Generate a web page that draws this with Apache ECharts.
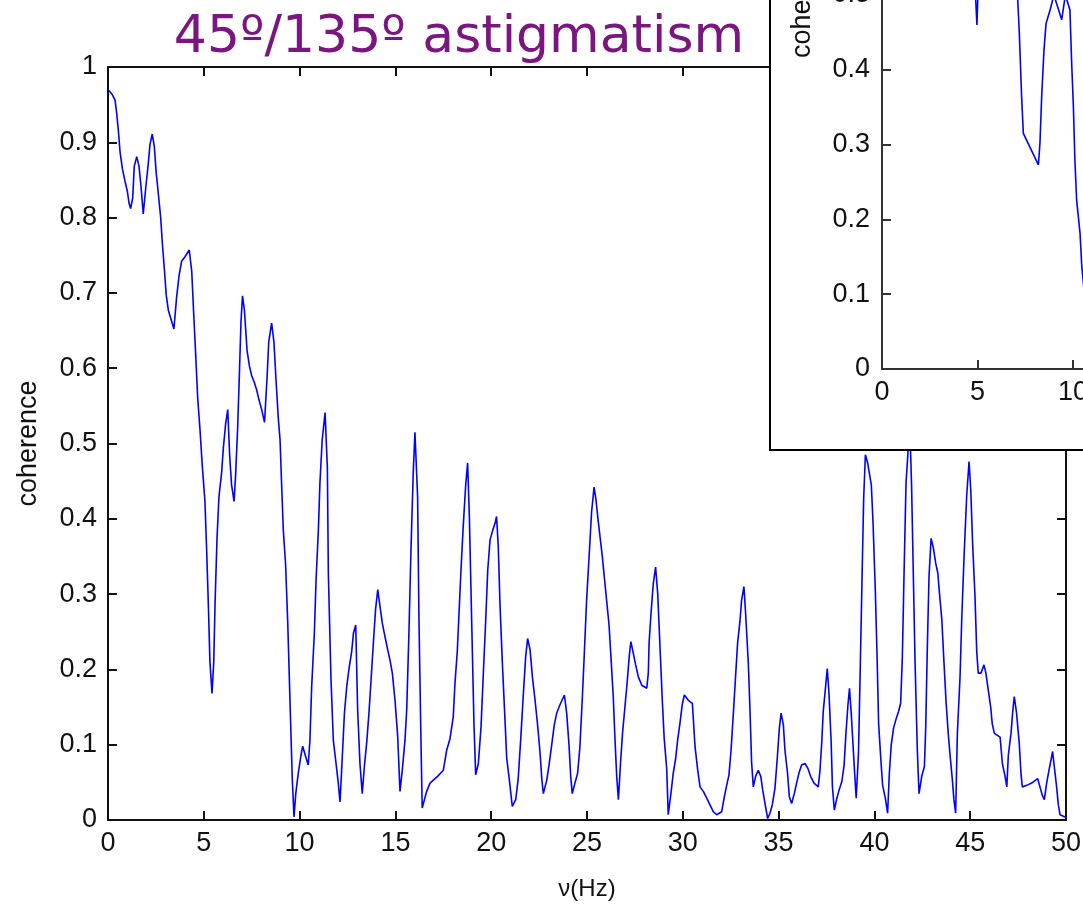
<!DOCTYPE html>
<html>
<head>
<meta charset="utf-8">
<script src="https://cdn.jsdelivr.net/npm/echarts@6/dist/echarts.min.js"></script>
<style>
html,body{margin:0;padding:0;background:#fff;}
#chart{width:1083px;height:904px;}
</style>
</head>
<body>
<div id="chart"></div>
<script>
// ---- data ----
const titleText = "45º/135º astigmatism";
const xTickValues = [0, 5, 10, 15, 20, 25, 30, 35, 40, 45, 50];
const yTickValues = [0, 0.1, 0.2, 0.3, 0.4, 0.5, 0.6, 0.7, 0.8, 0.9, 1];

const freqHz = [
0.0,0.1,0.23,0.37,0.45,0.54,0.63,0.75,0.89,1.01,1.1,1.18,1.29,1.37,1.5,1.62,1.72,1.84,1.9,1.98,
2.1,2.19,2.31,2.42,2.51,2.63,2.75,2.84,2.94,3.04,3.15,3.29,3.44,3.58,3.71,3.84,4.02,4.24,4.37,4.47,
4.58,4.68,4.8,4.92,5.06,5.15,5.24,5.32,5.43,5.52,5.59,5.69,5.79,5.93,6.02,6.14,6.25,6.35,6.45,6.58,
6.66,6.77,6.86,6.94,7.02,7.12,7.26,7.38,7.5,7.64,7.76,7.88,8.02,8.17,8.3,8.39,8.54,8.66,8.77,8.89,
8.98,9.06,9.15,9.27,9.38,9.5,9.62,9.71,9.8,9.93,10.06,10.16,10.32,10.45,10.54,10.63,10.77,10.86,10.98,11.06,
11.18,11.33,11.45,11.5,11.64,11.76,11.88,12.02,12.11,12.25,12.34,12.46,12.58,12.72,12.81,12.93,13.03,13.15,13.27,13.38,
13.5,13.62,13.73,13.85,13.97,14.08,14.2,14.32,14.46,14.6,14.72,14.84,14.98,15.12,15.24,15.36,15.5,15.59,15.71,15.81,
15.93,16.02,16.16,16.23,16.34,16.4,16.63,16.81,17.2,17.5,17.68,17.85,18.02,18.11,18.23,18.32,18.42,18.54,18.67,18.77,
18.86,18.98,19.1,19.19,19.33,19.47,19.59,19.71,19.82,19.94,20.06,20.2,20.28,20.37,20.46,20.58,20.72,20.81,20.94,21.1,
21.28,21.41,21.55,21.67,21.8,21.9,22.03,22.15,22.29,22.43,22.55,22.64,22.72,22.9,23.03,23.16,23.29,23.42,23.59,23.82,
23.94,24.06,24.15,24.23,24.37,24.51,24.63,24.76,24.86,24.98,25.11,25.24,25.37,25.47,25.56,25.68,25.8,25.91,26.03,26.15,
26.25,26.37,26.46,26.55,26.64,26.76,26.86,26.98,27.1,27.21,27.29,27.42,27.54,27.68,27.86,28.12,28.2,28.24,28.34,28.46,
28.58,28.69,28.81,28.93,29.03,29.16,29.24,29.38,29.5,29.63,29.73,29.85,29.97,30.08,30.29,30.5,30.64,30.78,30.9,31.07,
31.25,31.42,31.59,31.77,32.03,32.17,32.29,32.41,32.52,32.64,32.76,32.86,32.98,33.07,33.19,33.28,33.42,33.51,33.59,33.68,
33.8,33.94,34.07,34.17,34.29,34.43,34.55,34.67,34.81,34.93,35.04,35.13,35.25,35.33,35.46,35.56,35.68,35.82,35.94,36.06,
36.2,36.38,36.52,36.67,36.85,37.07,37.16,37.25,37.33,37.46,37.54,37.63,37.74,37.81,37.91,38.04,38.16,38.3,38.42,38.51,
38.62,38.7,38.79,38.88,38.96,39.05,39.17,39.26,39.35,39.44,39.53,39.65,39.74,39.84,39.93,40.05,40.14,40.22,40.35,40.43,
40.57,40.69,40.78,40.88,41.0,41.12,41.26,41.37,41.46,41.55,41.65,41.77,41.84,41.94,42.03,42.12,42.24,42.33,42.47,42.61,
42.68,42.76,42.85,42.96,43.08,43.2,43.31,43.39,43.52,43.63,43.74,43.86,43.95,44.07,44.15,44.24,44.33,44.47,44.56,44.68,
44.82,44.94,45.03,45.13,45.25,45.34,45.42,45.56,45.72,45.82,45.94,46.07,46.15,46.26,46.38,46.56,46.68,46.82,46.91,46.99,
47.13,47.22,47.3,47.42,47.56,47.65,47.72,47.95,48.21,48.52,48.64,48.76,48.87,48.99,49.11,49.22,49.3,49.39,49.51,49.6,
49.69,49.95,50.0
];
const coherence = [
0.97,0.968,0.963,0.956,0.939,0.916,0.887,0.865,0.848,0.835,0.819,0.812,0.826,0.868,0.881,0.868,0.842,0.805,0.803,0.842,
0.871,0.897,0.911,0.894,0.861,0.831,0.8,0.765,0.732,0.697,0.677,0.665,0.652,0.694,0.723,0.742,0.748,0.757,0.729,0.674,
0.616,0.561,0.519,0.471,0.423,0.358,0.284,0.21,0.168,0.21,0.29,0.374,0.429,0.461,0.494,0.526,0.545,0.484,0.445,0.423,
0.458,0.523,0.594,0.661,0.696,0.677,0.623,0.603,0.59,0.581,0.571,0.558,0.545,0.528,0.587,0.635,0.66,0.635,0.584,0.533,
0.505,0.447,0.385,0.339,0.263,0.157,0.053,0.004,0.035,0.062,0.084,0.098,0.084,0.073,0.106,0.177,0.248,0.319,0.385,0.447,
0.505,0.541,0.467,0.328,0.186,0.106,0.08,0.049,0.024,0.095,0.142,0.177,0.201,0.224,0.248,0.259,0.146,0.075,0.035,0.071,
0.102,0.142,0.186,0.235,0.281,0.306,0.283,0.261,0.243,0.226,0.212,0.195,0.159,0.111,0.038,0.066,0.106,0.146,0.252,0.356,
0.46,0.515,0.429,0.266,0.097,0.016,0.038,0.049,0.058,0.066,0.093,0.108,0.137,0.182,0.224,0.274,0.33,0.39,0.445,0.474,
0.403,0.266,0.128,0.06,0.075,0.124,0.195,0.263,0.332,0.372,0.383,0.394,0.403,0.363,0.286,0.21,0.133,0.082,0.055,0.018,
0.027,0.055,0.111,0.164,0.217,0.241,0.226,0.19,0.159,0.124,0.089,0.055,0.035,0.053,0.075,0.1,0.126,0.142,0.153,0.166,
0.142,0.1,0.058,0.035,0.049,0.062,0.097,0.164,0.221,0.292,0.35,0.409,0.442,0.425,0.403,0.376,0.35,0.321,0.29,0.259,
0.217,0.164,0.108,0.058,0.027,0.08,0.117,0.15,0.184,0.219,0.237,0.221,0.206,0.19,0.179,0.175,0.195,0.235,0.274,0.314,
0.336,0.301,0.23,0.159,0.108,0.068,0.007,0.035,0.062,0.082,0.106,0.128,0.153,0.166,0.159,0.155,0.097,0.066,0.044,0.038,
0.029,0.02,0.011,0.007,0.011,0.031,0.046,0.06,0.093,0.142,0.193,0.235,0.263,0.292,0.31,0.274,0.208,0.144,0.077,0.044,
0.058,0.066,0.058,0.04,0.022,0.002,0.009,0.02,0.042,0.082,0.122,0.142,0.126,0.093,0.064,0.031,0.022,0.035,0.049,0.062,
0.073,0.075,0.069,0.058,0.049,0.044,0.066,0.102,0.144,0.179,0.201,0.168,0.106,0.044,0.013,0.029,0.04,0.051,0.073,0.113,
0.153,0.175,0.142,0.102,0.066,0.029,0.089,0.199,0.314,0.427,0.485,0.474,0.46,0.445,0.394,0.303,0.217,0.128,0.075,0.046,
0.029,0.009,0.062,0.1,0.122,0.133,0.144,0.155,0.217,0.33,0.447,0.495,0.53,0.445,0.328,0.212,0.093,0.035,0.058,0.071,
0.124,0.226,0.323,0.374,0.361,0.341,0.328,0.303,0.266,0.21,0.157,0.113,0.086,0.053,0.027,0.009,0.115,0.19,0.268,0.35,
0.432,0.476,0.438,0.365,0.297,0.224,0.195,0.195,0.206,0.195,0.173,0.15,0.128,0.115,0.113,0.11,0.075,0.058,0.044,0.086,
0.115,0.144,0.164,0.142,0.102,0.062,0.044,0.046,0.049,0.055,0.044,0.033,0.027,0.049,0.066,0.08,0.091,0.071,0.044,0.02,
0.007,0.004,0.003
];

// inset (partly visible second panel)
const insetFreqHz = [4.5,4.8,4.97,5.1,5.5,6.5,7.0,7.19,7.31,7.4,8.19,8.27,8.36,8.48,8.59,8.8,9.0,9.41,9.6,9.84,9.93,10.02,10.1,10.19,10.37,10.46,10.6];
const insetCoherence = [0.6,0.55,0.46,0.56,0.6,0.62,0.55,0.449,0.364,0.315,0.273,0.302,0.364,0.426,0.462,0.48,0.5,0.467,0.5,0.48,0.409,0.351,0.279,0.226,0.181,0.137,0.1];

const mainData = freqHz.map((f, i) => [f, coherence[i]]);
const insetData = insetFreqHz.map((f, i) => [f, insetCoherence[i]]);

const FONT = "Liberation Sans";
const AX = '#111';
const LBL = 27;

const chart = echarts.init(document.getElementById('chart'), null, {renderer: 'canvas'});
const option = {
  backgroundColor: '#ffffff',
  animation: false,
  title: {
    text: titleText,
    left: 454, top: 7, textAlign: 'center',
    textStyle: {fontFamily: 'DejaVu Sans', fontSize: 52, fontWeight: 'normal', color: '#7b1580'}
  },
  grid: [
    {left: 108, top: 67, right: 17, bottom: 84, containLabel: false, outerBoundsMode: 'none'},
    {left: 882, top: 369 - 748, width: 286.5, height: 748, containLabel: false, outerBoundsMode: 'none'}
  ],
  xAxis: [
    {type: 'value', gridIndex: 0, position: 'bottom', min: 0, max: 50, interval: 5,
     name: 'ν(Hz)', nameLocation: 'middle', nameGap: 57,
     nameTextStyle: {fontFamily: FONT, fontSize: 24, color: AX},
     axisLine: {show: true, onZero: false, lineStyle: {color: AX, width: 2}},
     axisTick: {show: true, inside: true, length: 9, lineStyle: {color: AX, width: 2}},
     axisLabel: {fontFamily: FONT, fontSize: LBL, color: AX, margin: 10,
       formatter: v => xTickValues.includes(v) ? String(v) : ''},
     splitLine: {show: false}},
    {type: 'value', gridIndex: 0, position: 'top', min: 0, max: 50, interval: 5,
     axisLine: {show: true, onZero: false, lineStyle: {color: AX, width: 2}},
     axisTick: {show: true, inside: true, length: 9, lineStyle: {color: AX, width: 2}},
     axisLabel: {show: false}, splitLine: {show: false}},
    {type: 'value', gridIndex: 1, position: 'bottom', min: 0, max: 15, interval: 5, z: 60,
     axisLine: {show: true, onZero: false, lineStyle: {color: '#333', width: 2}},
     axisTick: {show: true, inside: true, length: 9, lineStyle: {color: '#333', width: 2}},
     axisLabel: {fontFamily: FONT, fontSize: LBL, color: AX, margin: 10},
     splitLine: {show: false}}
  ],
  yAxis: [
    {type: 'value', gridIndex: 0, position: 'left', min: 0, max: 1, interval: 0.1,
     name: 'coherence', nameLocation: 'middle', nameGap: 66,
     nameTextStyle: {fontFamily: FONT, fontSize: 27, color: AX},
     axisLine: {show: true, onZero: false, lineStyle: {color: AX, width: 2}},
     axisTick: {show: true, inside: true, length: 9, lineStyle: {color: AX, width: 2}},
     axisLabel: {fontFamily: FONT, fontSize: LBL, color: AX, margin: 11,
       formatter: v => yTickValues.includes(Math.round(v * 10) / 10) ? String(Math.round(v * 10) / 10) : ''},
     splitLine: {show: false}},
    {type: 'value', gridIndex: 0, position: 'right', min: 0, max: 1, interval: 0.1,
     axisLine: {show: true, onZero: false, lineStyle: {color: AX, width: 2}},
     axisTick: {show: true, inside: true, length: 9, lineStyle: {color: AX, width: 2}},
     axisLabel: {show: false}, splitLine: {show: false}},
    {type: 'value', gridIndex: 1, position: 'left', min: 0, max: 1, interval: 0.1, z: 60,
     name: 'coherence', nameLocation: 'middle', nameGap: 66,
     nameTextStyle: {fontFamily: FONT, fontSize: 27, color: AX},
     axisLine: {show: true, onZero: false, lineStyle: {color: '#333', width: 2}},
     axisTick: {show: true, inside: true, length: 9, lineStyle: {color: '#333', width: 2}},
     axisLabel: {fontFamily: FONT, fontSize: LBL, color: AX, margin: 12,
       formatter: v => String(Math.round(v * 10) / 10)},
     splitLine: {show: false}}
  ],
  graphic: [
    {type: 'rect', z: 50, silent: true,
     shape: {x: 770, y: -10, width: 400, height: 460},
     style: {fill: '#ffffff', stroke: '#000', lineWidth: 2}}
  ],
  series: [
    {type: 'line', xAxisIndex: 0, yAxisIndex: 0, data: mainData, showSymbol: false,
     lineStyle: {color: '#0000ff', width: 1.6}, z: 2},
    {type: 'line', xAxisIndex: 2, yAxisIndex: 2, data: insetData, showSymbol: false,
     lineStyle: {color: '#0000ff', width: 1.6}, z: 60}
  ]
};
chart.setOption(option);
</script>
</body>
</html>
